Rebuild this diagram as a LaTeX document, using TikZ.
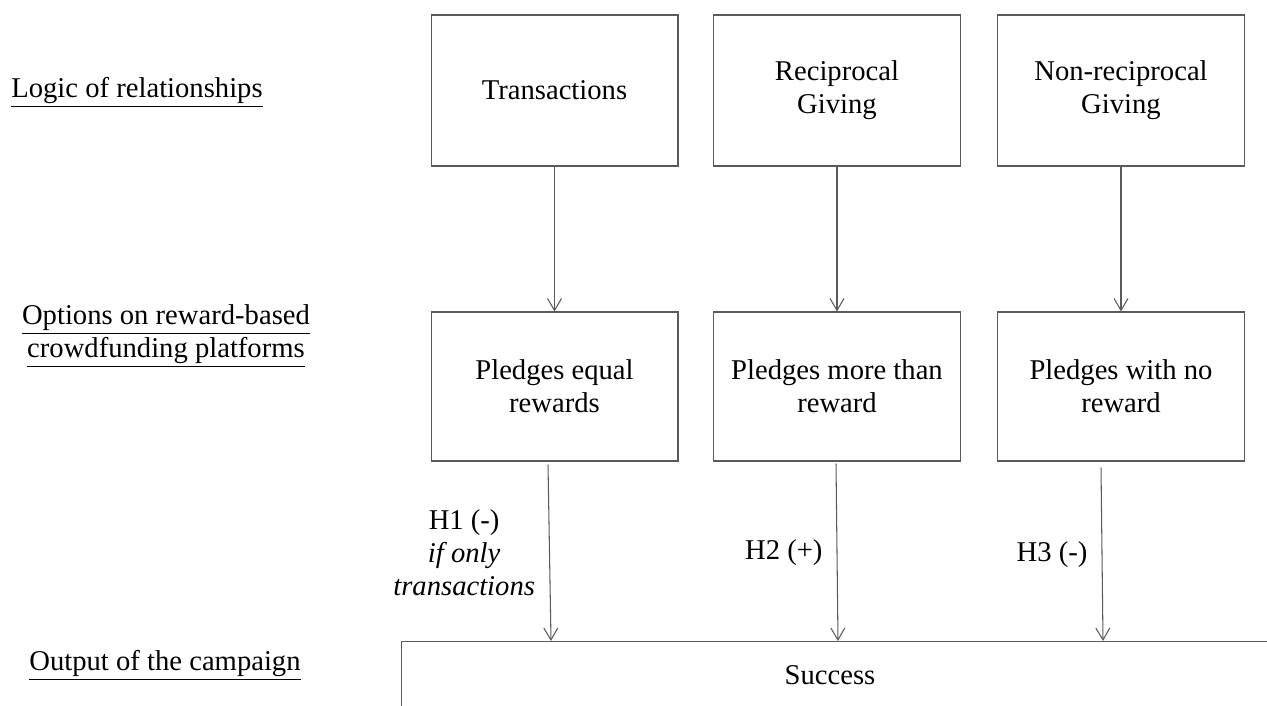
\documentclass[tikz,border=0pt]{standalone}
\usepackage{fontspec}
\setmainfont{Liberation Serif}
\usetikzlibrary{arrows.meta,calc}
\definecolor{linegray}{HTML}{5A5A5A}
\begin{document}
\begin{tikzpicture}[x=0.02cm,y=-0.02cm,
  every node/.style={font=\fontsize{16.3}{18.7}\selectfont},
  box/.style={draw=linegray,line width=0.6pt,minimum width=4.94cm,align=center},
  link/.style={draw=linegray,line width=0.6pt,-{Straight Barb[length=2.4mm,width=2.8mm]}},
  hyp/.style={midway,left,xshift=-2.8mm,inner sep=0pt,align=center},
  lbl/.style={align=center}]
\useasboundingbox (0,0) rectangle (1267,706);
\clip (0,0) rectangle (1267,706);
\node[lbl] (logic) at (137,92) {\underline{Logic of relationships}};
\node[lbl] (options) at (166,336) {\underline{Options on reward-based}\\\underline{crowdfunding platforms}};
\node[lbl] (output) at (165,665) {\underline{Output of the campaign}};
\node[box,minimum height=3.02cm] (trans) at (554.5,90.5) {Transactions};
\node[box,minimum height=3.02cm] (recip) at (837,90.5) {Reciprocal\\Giving};
\node[box,minimum height=3.02cm] (nonrecip) at (1121,90.5) {Non-reciprocal\\Giving};
\node[box,minimum height=2.98cm] (pe) at (554.5,386.5) {Pledges equal\\rewards};
\node[box,minimum height=2.98cm] (pm) at (837,386.5) {Pledges more than\\reward};
\node[box,minimum height=2.98cm] (pn) at (1121,386.5) {Pledges with no\\reward};
\node[draw=linegray,line width=0.6pt,anchor=north west,minimum width=18cm,minimum height=3cm] (success) at (401,641) {};
\node (succtxt) at (830,675) {Success};
\draw[link] (trans) -- (pe);
\draw[link] (recip) -- (pm);
\draw[link] (nonrecip) -- (pn);
\draw[link] ($(pe.south)+(-6.5,3)$) -- ($(success.north west)+(150,0)$)
  node[hyp] {H1 (-)\\\textit{if only}\\\textit{transactions}};
\draw[link] ($(pm.south)+(-1,2)$) -- ($(success.north west)+(437,0)$)
  node[hyp] {H2 (+)};
\draw[link] ($(pn.south)+(-20,6)$) -- ($(success.north west)+(702,0)$)
  node[hyp] {H3 (-)};
\end{tikzpicture}
\end{document}
